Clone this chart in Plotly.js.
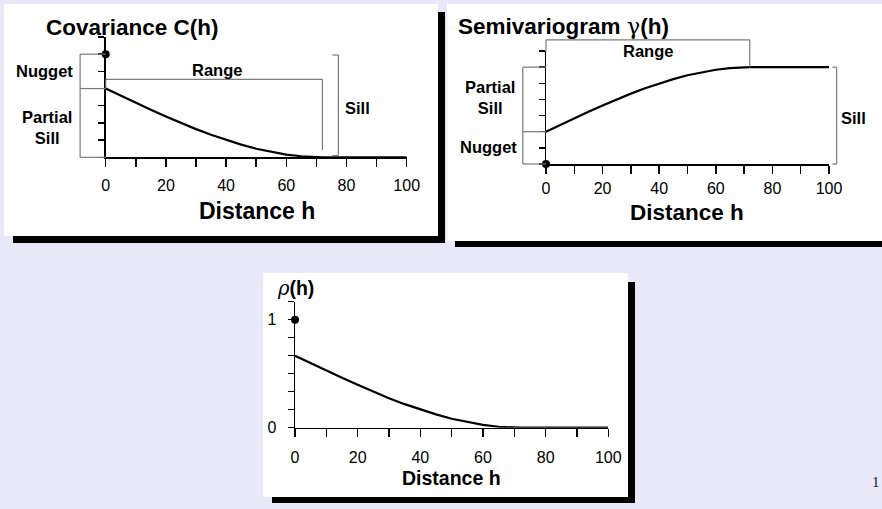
<!DOCTYPE html>
<html>
<head>
<meta charset="utf-8">
<script src="https://cdn.plot.ly/plotly-3.0.1.min.js"></script>
<style>
  html, body { margin: 0; padding: 0; background: #e8e8f8; }
  #chart { width: 882px; height: 509px; }
</style>
</head>
<body>
<div id="chart"></div>
<script>
// ---------------- data ----------------
const distance = [0, 5, 10, 15, 20, 25, 30, 35, 40, 45, 50, 55, 60, 65, 70, 72, 100];
const covariance = [4.00, 3.58, 3.17, 2.77, 2.38, 2.00, 1.64, 1.31, 1.01, 0.74, 0.50, 0.31, 0.16, 0.06, 0.01, 0, 0];
const semivariogram = [2.00, 2.42, 2.83, 3.23, 3.62, 4.00, 4.36, 4.69, 4.99, 5.26, 5.50, 5.69, 5.84, 5.94, 5.99, 6, 6];
const correlation = [0.667, 0.597, 0.528, 0.462, 0.397, 0.333, 0.273, 0.218, 0.168, 0.123, 0.083, 0.051, 0.026, 0.009, 0.001, 0, 0];
const nugget = 2;
const partialSill = 4;
const sill = 6;
const rangeA = 72;
const xTickVals = [0, 10, 20, 30, 40, 50, 60, 70, 80, 90, 100];
const xTickText = ['0', '', '20', '', '40', '', '60', '', '80', '', '100'];
const rhoTickVals = [0, 1/6, 2/6, 3/6, 4/6, 5/6, 1, 7/6];
const rhoTickText = ['0', '', '', '', '', '', '1', ''];
const unitTicks = [0, 1, 2, 3, 4, 5, 6, 7];
const xTitle = 'Distance h';

// ---------------- layout helpers ----------------
const W = 882, H = 509;
const px = v => v / W;
const py = v => 1 - v / H;
const FONT = 'Liberation Sans, Arial, sans-serif';

function xAxis(x0, x1, yAnchor, standoff) {
  return {
    domain: [px(x0), px(x1)], anchor: yAnchor, range: [0, 100],
    showline: true, linecolor: '#000', linewidth: 1.5,
    showgrid: false, zeroline: false, fixedrange: true,
    ticks: 'outside', ticklen: 8, tickwidth: 1.5, tickcolor: '#000',
    tickvals: xTickVals, ticktext: xTickText,
    tickfont: { family: FONT, size: 16, color: '#000' },
    ticklabelstandoff: standoff
  };
}
function yAxis(ytopPx, y0Px, xAnchor, rng, vals, text, showLabels) {
  return {
    domain: [py(y0Px), py(ytopPx)], anchor: xAnchor, range: rng,
    showline: true, linecolor: '#000', linewidth: 1.5,
    showgrid: false, zeroline: false, fixedrange: true,
    ticks: 'outside', ticklen: 6, tickwidth: 1.5, tickcolor: '#000',
    tickvals: vals, ticktext: text, showticklabels: showLabels,
    tickfont: { family: FONT, size: 16, color: '#000' }, ticklabelstandoff: 8
  };
}

// ---------------- traces ----------------
const lineStyle = { color: '#000', width: 2.2 };
const dotStyle = { color: '#000', size: 8 };
const traces = [
  { x: distance, y: covariance, xaxis: 'x', yaxis: 'y', mode: 'lines', line: lineStyle, cliponaxis: false, hoverinfo: 'skip' },
  { x: [0], y: [sill], xaxis: 'x', yaxis: 'y', mode: 'markers', marker: dotStyle, cliponaxis: false, hoverinfo: 'skip' },
  { x: distance, y: semivariogram, xaxis: 'x2', yaxis: 'y2', mode: 'lines', line: lineStyle, cliponaxis: false, hoverinfo: 'skip' },
  { x: [0], y: [0], xaxis: 'x2', yaxis: 'y2', mode: 'markers', marker: dotStyle, cliponaxis: false, hoverinfo: 'skip' },
  { x: distance, y: correlation, xaxis: 'x3', yaxis: 'y3', mode: 'lines', line: lineStyle, cliponaxis: false, hoverinfo: 'skip' },
  { x: [0], y: [1], xaxis: 'x3', yaxis: 'y3', mode: 'markers', marker: dotStyle, cliponaxis: false, hoverinfo: 'skip' }
];

// ---------------- shapes ----------------
const shapes = [];
function rectPx(x0, y0, x1, y1, color) {
  shapes.push({ type: 'rect', xref: 'paper', yref: 'paper', layer: 'below',
    x0: px(x0), x1: px(x1), y0: py(y1), y1: py(y0), fillcolor: color, line: { width: 0 } });
}
// panel backgrounds with black drop shadows
rectPx(13, 12, 445, 243, '#000');
rectPx(4, 4, 438, 236, '#fff');
rectPx(455, 12, 890, 247, '#000');
rectPx(447, 4, 882, 241, '#fff');
rectPx(272, 282, 635, 503, '#000');
rectPx(263, 273, 628, 497, '#fff');

// bracket segments in data units, drawn with axis-domain references
const BR = { color: '#7a7a7a', width: 1.2 };
function seg(ax, xr, yr, xa, ya, xb, yb) {
  shapes.push({ type: 'line', xref: ax + ' domain', yref: ax.replace('x', 'y') + ' domain', layer: 'above',
    x0: xa / xr, x1: xb / xr, y0: ya / yr, y1: yb / yr, line: BR });
}
// panel 1 (x 0-100, y 0-7)
const L1 = -8.5;
seg('x', 100, 7, L1, 0, L1, sill);
seg('x', 100, 7, L1, sill, 0, sill);
seg('x', 100, 7, L1, sill - nugget, 0, sill - nugget);
seg('x', 100, 7, L1, 0, 0, 0);
const rTop1 = 4.53;
seg('x', 100, 7, 0, rTop1, rangeA, rTop1);
seg('x', 100, 7, 0, rTop1, 0, partialSill);
seg('x', 100, 7, rangeA, rTop1, rangeA, 0.43);
const S1 = 77.3;
seg('x', 100, 7, S1, 0.1, S1, sill - 0.05);
seg('x', 100, 7, S1 - 2, sill - 0.05, S1, sill - 0.05);
seg('x', 100, 7, S1 - 2, 0.1, S1, 0.1);
// panel 2
const L2 = -8.2;
seg('x2', 100, 7, L2, 0, L2, sill);
seg('x2', 100, 7, L2, sill, 0, sill);
seg('x2', 100, 7, L2, nugget, 0, nugget);
seg('x2', 100, 7, L2, 0, 0, 0);
const rTop2 = 7.69;
seg('x2', 100, 7, 0, rTop2, rangeA, rTop2);
seg('x2', 100, 7, 0, rTop2, 0, 7);
seg('x2', 100, 7, rangeA, rTop2, rangeA, sill);
const S2 = 102.7;
seg('x2', 100, 7, S2, 0, S2, sill);
seg('x2', 100, 7, S2 - 1.5, sill, S2, sill);
seg('x2', 100, 7, S2 - 1.5, 0, S2, 0);

// ---------------- annotations ----------------
const annotations = [];
function label(text, xPx, yPx, size, opts) {
  annotations.push(Object.assign({ text: text, xref: 'paper', yref: 'paper', x: px(xPx), y: py(yPx),
    xanchor: 'center', yanchor: 'middle', showarrow: false, borderpad: 0,
    font: { family: FONT, size: size, color: '#000' } }, opts || {}));
}
label('<b>Covariance C(h)</b>', 45, 27, 22.5, { xanchor: 'left' });
label('<b>Semivariogram </b><span style="font-family:DejaVu Serif">γ</span><b>(h)</b>', 457, 26, 22.5, { xanchor: 'left' });
label('<span style="font-family:DejaVu Serif"><i>ρ</i></span><b>(h)</b>', 295, 288, 19.5);
// axis titles
label('<b>' + xTitle + '</b>', 257, 211, 23);
label('<b>' + xTitle + '</b>', 687, 212, 22.5);
label('<b>' + xTitle + '</b>', 451, 478, 19.5);
// bracket labels
label('<b>Nugget</b>', 44, 71, 16.5);
label('<b>Partial<br>Sill</b>', 47, 127, 16.5);
label('<b>Range</b>', 217, 70, 16.5);
label('<b>Sill</b>', 357, 108, 16.5);
label('<b>Partial<br>Sill</b>', 490, 98, 16.5);
label('<b>Nugget</b>', 488, 147, 16.5);
label('<b>Range</b>', 648, 51, 16.5);
label('<b>Sill</b>', 853, 118, 16.5);
label('1', 876, 482, 15, { font: { family: 'Liberation Serif, serif', size: 15, color: '#222' } });

const layout = {
  width: W, height: H, margin: { l: 0, r: 0, t: 0, b: 0 },
  paper_bgcolor: '#e8e8f8', plot_bgcolor: 'rgba(0,0,0,0)',
  showlegend: false,
  xaxis: xAxis(105.7, 406.7, 'y', 5),
  yaxis: yAxis(37, 157.3, 'x', [0, 7], unitTicks, null, false),
  xaxis2: xAxis(546, 829, 'y2', 1),
  yaxis2: yAxis(51, 164, 'x2', [0, 7], unitTicks, null, false),
  xaxis3: xAxis(295, 608.3, 'y3', 7),
  yaxis3: yAxis(301.7, 427.7, 'x3', [0, 7/6], rhoTickVals, rhoTickText, true),
  shapes: shapes,
  annotations: annotations
};

Plotly.newPlot('chart', traces, layout, { staticPlot: true, displayModeBar: false });
</script>
</body>
</html>
